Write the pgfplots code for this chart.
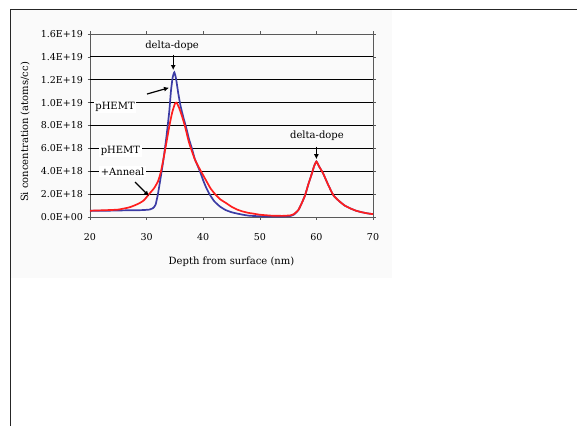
\documentclass[border=0pt]{standalone}
\usepackage{pgfplots}
\pgfplotsset{compat=1.18}
\usepackage{fontspec}
\setmainfont{DejaVu Serif}
\usetikzlibrary{arrows.meta}
\definecolor{pblue}{RGB}{60,60,165}
\definecolor{pred}{RGB}{255,30,30}
\begin{document}
\begin{tikzpicture}[x=1pt,y=1pt]
\path[use as bounding box] (0,0) rectangle (577,426);
\fill[black!2] (11,148) rectangle (392,415.5);
\draw[black!85, line width=1pt] (10,0) -- (10,416.5) -- (577,416.5);
\begin{axis}[
  at={(90pt,209pt)}, anchor=south west,
  scale only axis, width=283pt, height=183pt,
  xmin=20, xmax=70, ymin=0, ymax=16,
  xtick={20,30,40,50,60,70},
  ytick={0,2,4,6,8,10,12,14,16},
  yticklabels={0.0E+00,2.0E+18,4.0E+18,6.0E+18,8.0E+18,1.0E+19,1.2E+19,1.4E+19,1.6E+19},
  extra y ticks={2,4,6,8,10,12,14},
  extra y tick labels={},
  extra y tick style={grid=major, major grid style={black, line width=0.9pt}, major tick length=0pt},
  tick align=outside, major tick length=2.5pt,
  tick style={gray!70!black, line width=0.6pt},
  axis line style={gray!70!black, line width=0.8pt},
  /pgf/number format/assume math mode=true,
  font=\fontsize{10}{12}\selectfont,
  ticklabel style={font=\fontsize{9.5}{11}\selectfont},
  yticklabel style={xshift=-1pt},
  xticklabel style={yshift=-10pt},
  xlabel={Depth from surface (nm)},
  ylabel={Si concentration (atoms/cc)},
  xlabel style={at={(axis description cs:0.5,-0.246)}, anchor=center},
  ylabel style={at={(axis description cs:-0.2297,0.4645)}, anchor=center},
  clip=false,
]
\addplot[pblue, line width=1.7pt, smooth, tension=0.3] coordinates {
(20,0.55) (23,0.55) (26,0.58) (29,0.6) (30.5,0.65) (31.2,0.8) (31.6,1.1)
(32.0,2.0) (32.5,3.5) (33.0,5.1) (33.5,7.0) (34.0,9.2) (34.3,11.0) (34.6,12.2)
(34.9,12.65) (35.2,12.1) (35.6,10.8) (36.0,9.7) (36.5,8.7) (37.0,7.8) (37.5,6.8)
(38.0,6.0) (38.5,5.1) (39.0,4.5) (39.5,3.9) (40.0,3.2) (40.5,2.6) (41.0,2.1)
(41.5,1.7) (42.0,1.35) (43.0,0.9) (44,0.6) (45,0.42) (46,0.3) (47,0.2) (48,0.12)
(50,0.06) (52,0.04) (54,0.04) (55.5,0.1) (56,0.2) (56.8,0.6) (57.4,1.2) (58,1.9)
(58.6,2.9) (59.2,3.8) (59.6,4.45) (60.0,4.85) (60.5,4.4) (61.2,3.8) (62,2.9)
(63,1.9) (64,1.4) (65,1.0) (66,0.75) (67,0.55) (68,0.42) (69,0.32) (70,0.25)
};
\addplot[pred, line width=1.7pt, smooth, tension=0.3] coordinates {
(20,0.55) (23,0.6) (25,0.65) (27,0.85) (28.5,1.15) (29.5,1.45) (30.6,2.1)
(31.3,2.5) (32.0,3.1) (32.5,3.9) (32.95,5.0) (33.5,6.5) (34.0,7.9) (34.5,9.1)
(35.0,9.9) (35.3,10.0) (35.7,9.6) (36.2,8.9) (36.8,7.9) (37.5,6.5) (38.55,5.0)
(39.6,4.0) (40.5,3.2) (41.3,2.5) (42.1,2.0) (43.0,1.55) (44.1,1.2) (45.0,0.9)
(46.0,0.65) (47.0,0.48) (48.0,0.36) (48.8,0.3) (50,0.2) (52,0.12) (54,0.1)
(55.5,0.15) (56,0.25) (56.8,0.6) (57.4,1.2) (58,1.9) (58.6,2.9) (59.2,3.8)
(59.6,4.45) (60.0,4.85) (60.5,4.4) (61.2,3.8) (62,2.9) (63,1.9) (64,1.4)
(65,1.0) (66,0.75) (67,0.55) (68,0.42) (69,0.32) (70,0.25)
};
\node at (axis cs:34.5,14.95) {delta-dope};
\draw[line width=1.4pt, -{Latex[length=5pt,width=5pt]}] (axis cs:34.7,14.2) -- (axis cs:34.7,12.85);
\node[fill=white, inner sep=1.5pt] at (axis cs:24.42,9.6) {pHEMT};
\draw[line width=1.2pt, -{Latex[length=5pt,width=5pt]}] (axis cs:30.07,10.75) -- (axis cs:33.96,11.3);
\node[fill=white, inner sep=1.5pt, anchor=west] at (axis cs:21.6,5.75) {pHEMT};
\node[fill=white, inner sep=1.5pt, anchor=west] at (axis cs:21.6,3.95) {+Anneal};
\draw[line width=1.2pt, -{Latex[length=5pt,width=5pt]}] (axis cs:27.95,3.06) -- (axis cs:30.42,1.84);
\node at (axis cs:60.1,7.08) {delta-dope};
\draw[line width=1.4pt, -{Latex[length=5pt,width=5pt]}] (axis cs:60.0,6.15) -- (axis cs:60.0,5.05);
\end{axis}
\end{tikzpicture}
\end{document}
